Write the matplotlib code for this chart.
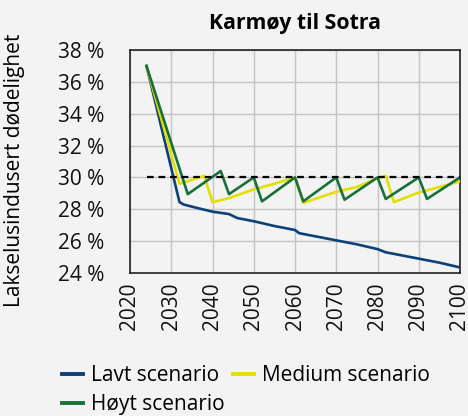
import matplotlib
matplotlib.use("Agg")
import matplotlib.pyplot as plt
from matplotlib.ticker import FuncFormatter

plt.rcParams['font.family'] = ['Open Sans', 'DejaVu Sans']

title = "Karmøy til Sotra"
ylabel = "Lakselusindusert dødelighet"
series_names = ["Lavt scenario", "Medium scenario", "Høyt scenario"]

lavt_years = [2024, 2032, 2033, 2036, 2040, 2044, 2046, 2050, 2055, 2060, 2061, 2065,
              2070, 2075, 2080, 2082, 2085, 2090, 2095, 2100]
lavt_vals = [37.0, 28.45, 28.3, 28.1, 27.85, 27.7, 27.45, 27.25, 26.95, 26.7, 26.5, 26.3,
             26.05, 25.8, 25.5, 25.3, 25.15, 24.9, 24.65, 24.35]

medium_years = [2024, 2032, 2038, 2040, 2044, 2050, 2055, 2060, 2062, 2070, 2075, 2080,
                2082, 2084, 2090, 2100]
medium_vals = [37.0, 29.6, 30.1, 28.45, 28.7, 29.25, 29.6, 30.0, 28.4, 29.1, 29.4, 29.95,
               30.1, 28.45, 29.05, 29.75]

hoyt_years = [2024, 2034, 2042, 2044, 2050, 2052, 2060, 2062, 2070, 2072, 2080, 2082,
              2090, 2092, 2100]
hoyt_vals = [37.0, 28.95, 30.4, 28.95, 30.0, 28.5, 30.0, 28.5, 30.0, 28.6, 30.0, 28.65,
             30.0, 28.65, 30.0]

threshold_years = [2024, 2100]
threshold_vals = [30.0, 30.0]

x_ticks = list(range(2020, 2101, 10))
y_ticks = list(range(24, 39, 2))

bg = '#f3f3f3'
fs = 15
fig = plt.figure(figsize=(4.68, 4.16), dpi=100, facecolor=bg)
ax = fig.add_axes([130/468, 1-273/416, 330/468, 223/416], facecolor=bg)

l_lavt, = ax.plot(lavt_years, lavt_vals, color='#0d3f7a', lw=1.9, label=series_names[0], zorder=3)
l_med, = ax.plot(medium_years, medium_vals, color='#e3df00', lw=1.9, label=series_names[1], zorder=3)
l_hoyt, = ax.plot(hoyt_years, hoyt_vals, color='#17703a', lw=1.9, label=series_names[2], zorder=4)
ax.plot(threshold_years, threshold_vals, color='black', lw=1.6, ls=(0, (3, 2.2)), zorder=5)

ax.set_xlim(2020, 2100)
ax.set_ylim(24, 38)
ax.set_xticks(x_ticks)
ax.set_yticks(y_ticks)
ax.yaxis.set_major_formatter(FuncFormatter(lambda v, p: f"{int(v)} %"))
ax.grid(True, color='#c4c4c4', lw=1.0, zorder=0)
ax.set_axisbelow(True)
ax.tick_params(axis='both', length=0, labelsize=fs, colors='#111111')
ax.tick_params(axis='y', pad=18.5)
ax.tick_params(axis='x', rotation=90, pad=7)
for s in ax.spines.values():
    s.set_color('#222222')
    s.set_linewidth(1.2)

ax.set_title(title, fontsize=15.3, fontweight='bold', pad=15)
fig.text(15/468, 1-170/416, ylabel, rotation=90, ha='center', va='center', fontsize=fs)

leg = fig.legend(handles=[l_lavt, l_hoyt, l_med],
                 labels=[series_names[0], series_names[2], series_names[1]],
                 loc='upper left', bbox_to_anchor=(62/468, 1-365/416),
                 ncol=2, frameon=False, fontsize=fs, handlelength=1.0, handletextpad=0.4,
                 columnspacing=0.4, labelspacing=0.38, borderaxespad=0, borderpad=0)
for h in leg.get_lines():
    h.set_linewidth(2.8)

fig.savefig('out.png', dpi=100, facecolor=bg)
